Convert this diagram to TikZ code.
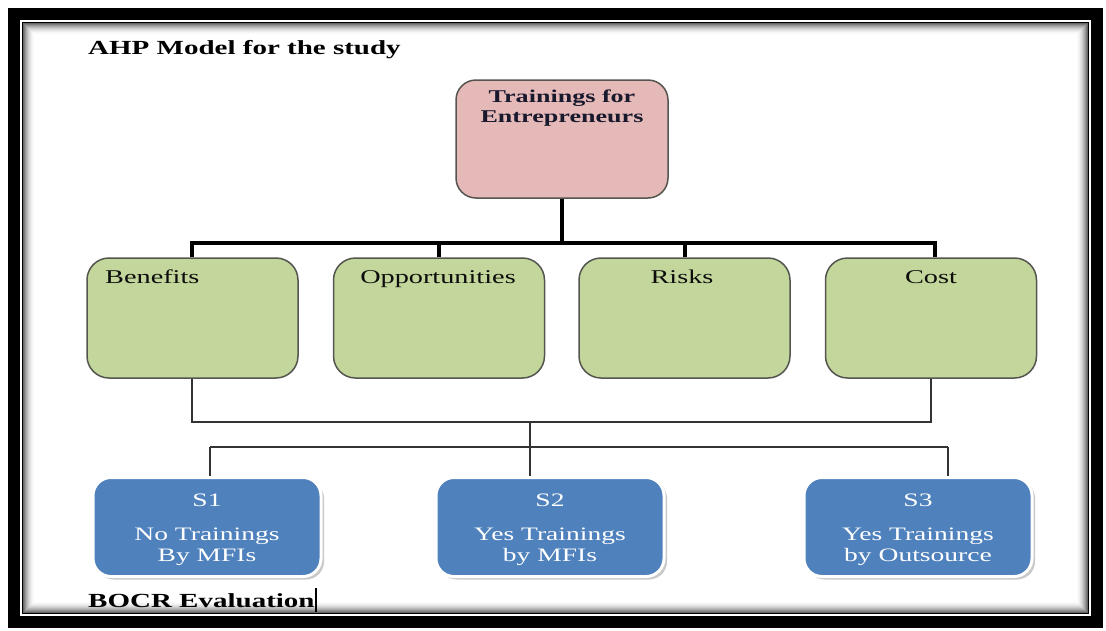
\documentclass[tikz,border=0pt]{standalone}
\usepackage{fontspec}
\setmainfont[FakeStretch=1.45]{Liberation Serif}
\usetikzlibrary{shadows}
\definecolor{pinkfill}{RGB}{229,185,184}
\definecolor{greenfill}{RGB}{195,214,155}
\definecolor{bluefill}{RGB}{79,129,189}
\definecolor{boxedge}{RGB}{85,85,80}
\definecolor{darktext}{RGB}{25,25,45}
\tikzset{
  topbox/.style={draw=boxedge, line width=1.5pt, fill=pinkfill, rounded corners=20pt,
    minimum width=212pt, minimum height=118pt, inner sep=0pt},
  critbox/.style={draw=boxedge, line width=1.5pt, fill=greenfill, rounded corners=22pt,
    minimum width=211pt, minimum height=120pt, inner sep=0pt},
  altbox/.style={draw=white, line width=3pt, fill=bluefill, rounded corners=18pt,
    minimum width=228pt, minimum height=99pt, inner sep=0pt,
    drop shadow={shadow xshift=3pt, shadow yshift=-3pt, fill=black!35, opacity=0.6}},
  toptext/.style={font=\fontsize{18}{20}\selectfont\bfseries, text=darktext, align=center, inner sep=0pt},
  crittext/.style={font=\fontsize{19.5}{22}\selectfont, text=black!95, inner sep=0pt},
  alttext/.style={font=\fontsize{19}{21.5}\selectfont, text=white, align=center, inner sep=0pt},
  heading/.style={font=\fontsize{20}{24}\selectfont\bfseries, text=black, inner sep=0pt},
  thick link/.style={line width=4pt},
  thin link/.style={line width=1.3pt, draw=black!80},
}
\begin{document}
\begin{tikzpicture}[x=1pt,y=-1pt]
\useasboundingbox (0,0) rectangle (1106,630);
\fill[white] (0,0) rectangle (1106,630);
% frame
\draw[line width=12pt] (14,14) rectangle (1097,622);
\draw[line width=1.2pt] (22.5,22.5) rectangle (1088.5,613.5);
\foreach \i in {0,...,11}{
  \pgfmathsetmacro{\c}{60*(1-\i/12)^2}
  \draw[line width=1.1pt, black!\c] (23.8+\i,23.8+\i) rectangle (1087.2-\i,612.2-\i);
}
% title
\node[heading, anchor=base west] (title) at (88,54) {AHP Model for the study};
% goal
\node[topbox] (goal) at (562,139) {};
\node[toptext, anchor=north] (goalT) at (562,90) {Trainings for\\Entrepreneurs};
% criteria
\node[critbox] (ben) at (192.5,318) {};
\node[critbox] (opp) at (439,318) {};
\node[critbox] (risk) at (684.5,318) {};
\node[critbox] (cost) at (931,318) {};
\node[crittext, anchor=base west] (benT) at (105,283) {Benefits};
\node[crittext, anchor=base] (oppT) at (438,283) {Opportunities};
\node[crittext, anchor=base] (riskT) at (682,283) {Risks};
\node[crittext, anchor=base] (costT) at (931,283) {Cost};
% alternatives
\node[altbox] (s1) at (207,527) {};
\node[altbox] (s2) at (550,527) {};
\node[altbox] (s3) at (918,527) {};
\node[alttext, anchor=north] (s1T) at (207,494) {S1\\[12pt]No Trainings\\By MFIs};
\node[alttext, anchor=north] (s2T) at (550,494) {S2\\[12pt]Yes Trainings\\by MFIs};
\node[alttext, anchor=north] (s3T) at (918,494) {S3\\[12pt]Yes Trainings\\by Outsource};
% footer
\node[heading, anchor=base west] (bocr) at (88,607) {BOCR Evaluation};
\draw[line width=1.6pt] (bocr.base east) ++(1,5) coordinate (cur1) -- ++(0,-24) coordinate (cur2);
% thick connectors
\coordinate (hub) at (562,243);
\draw[thick link] (goal.south) -- (hub);
\draw[thick link, line cap=rect] (192,243) coordinate (hl) -- (935,243) coordinate (hr);
\draw[thick link] (hl) -- (hl |- ben.north);
\draw[thick link] (opp.north |- hub) -- (opp.north);
\draw[thick link] (risk.north |- hub) -- (risk.north);
\draw[thick link] (hr) -- (hr |- cost.north);
% thin connectors
\coordinate (bl) at (192,422);
\coordinate (br) at (931,422);
\coordinate (mid) at (530,422);
\draw[thin link] (ben.south -| bl) -- (bl) -- (br) -- (cost.south -| br);
\draw[thin link] (mid) -- (530,447) coordinate (junction);
\draw[thin link] (210,447) coordinate (al) -- (948,447) coordinate (ar);
\draw[thin link] (al) -- (al |- s1.north);
\draw[thin link] (junction) -- (junction |- s2.north);
\draw[thin link] (ar) -- (ar |- s3.north);
\end{tikzpicture}
\end{document}
